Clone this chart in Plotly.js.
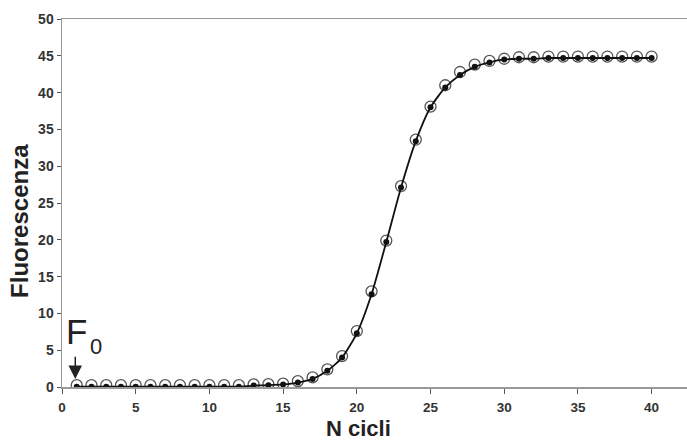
<!DOCTYPE html>
<html>
<head>
<meta charset="utf-8">
<script src="https://cdn.plot.ly/plotly-3.0.1.min.js"></script>
<style>html,body{margin:0;padding:0;background:#fff;}#chart{width:687px;height:443px;}</style>
</head>
<body>
<div id="chart"></div>
<script>
const cycles = [1,2,3,4,5,6,7,8,9,10,11,12,13,14,15,16,17,18,19,20,21,22,23,24,25,26,27,28,29,30,31,32,33,34,35,36,37,38,39,40];
const fluorFilled = [0.05,0.05,0.05,0.05,0.05,0.05,0.05,0.05,0.05,0.05,0.05,0.05,0.2,0.25,0.35,0.6,1.1,2.2,4.0,7.3,12.6,19.7,27.1,33.4,38.0,40.7,42.4,43.5,44.1,44.5,44.6,44.6,44.7,44.7,44.7,44.7,44.7,44.7,44.7,44.7];
const fluorOpen = [0.25,0.25,0.25,0.25,0.25,0.25,0.25,0.25,0.25,0.25,0.25,0.25,0.35,0.4,0.45,0.8,1.3,2.4,4.2,7.6,13.0,19.9,27.3,33.6,38.1,41.0,42.8,43.8,44.3,44.6,44.8,44.8,44.9,44.9,44.9,44.9,44.9,44.9,44.9,44.9];
const xTicks = [0,5,10,15,20,25,30,35,40];
const yTicks = [0,5,10,15,20,25,30,35,40,45,50];

const traces = [
  {x: cycles, y: fluorOpen, type: 'scatter', mode: 'markers',
   marker: {symbol: 'circle-open', size: 11, color: '#555', line: {width: 1.3, color: '#555'}},
   hoverinfo: 'skip', showlegend: false},
  {x: cycles, y: fluorFilled, type: 'scatter', mode: 'lines+markers',
   line: {color: '#111', width: 1.8, shape: 'spline', smoothing: 0.6},
   marker: {symbol: 'circle', size: 6, color: '#111'},
   showlegend: false}
];

const layout = {
  width: 687, height: 443,
  margin: {l: 62, r: 0, t: 19, b: 56},
  paper_bgcolor: '#fff', plot_bgcolor: '#fff',
  font: {family: 'Liberation Sans, Arial, sans-serif', color: '#333'},
  xaxis: {range: [0, 42.4], tickvals: xTicks, ticktext: xTicks.map(String),
    showgrid: false, zeroline: false, showline: true, linecolor: '#999', linewidth: 1.5,
    mirror: true, ticks: 'outside', ticklen: 5, tickcolor: '#555', tickwidth: 1,
    ticklabelstandoff: 2,
    tickfont: {size: 13.5, color: '#333', weight: 'bold'}},
  yaxis: {range: [0, 50], tickvals: yTicks, ticktext: yTicks.map(String),
    showgrid: false, zeroline: false, showline: true, linecolor: '#999', linewidth: 1.5,
    ticks: 'outside', ticklen: 4, tickcolor: '#555', tickwidth: 1,
    tickfont: {size: 14, color: '#333', weight: 'bold'}},
  annotations: [
    {text: 'Fluorescenza', xref: 'paper', yref: 'paper', x: -0.068, y: 0.45,
     xanchor: 'center', yanchor: 'middle', textangle: -90, showarrow: false,
     font: {size: 24, color: '#222', weight: 'bold'}},
    {text: 'N cicli', xref: 'paper', yref: 'paper', x: 0.475, y: -0.1485,
     xanchor: 'center', yanchor: 'bottom', showarrow: false, borderpad: 0,
     font: {size: 22, color: '#222', weight: 'bold'}},
    {text: 'F', xref: 'x', yref: 'y', x: 0.95, y: 7.5, xanchor: 'center', yanchor: 'middle',
     showarrow: false, font: {size: 35, color: '#222'}},
    {text: '0', xref: 'x', yref: 'y', x: 2.3, y: 5.5, xanchor: 'center', yanchor: 'middle',
     showarrow: false, font: {size: 22, color: '#222'}},
    {text: '', xref: 'x', yref: 'y', x: 0.9, y: 1.1, axref: 'x', ayref: 'y', ax: 0.9, ay: 4.3,
     showarrow: true, arrowhead: 2, arrowsize: 1.8, arrowwidth: 1.5, arrowcolor: '#222'}
  ]
};

Plotly.newPlot('chart', traces, layout, {staticPlot: true, displayModeBar: false});
</script>
</body>
</html>
